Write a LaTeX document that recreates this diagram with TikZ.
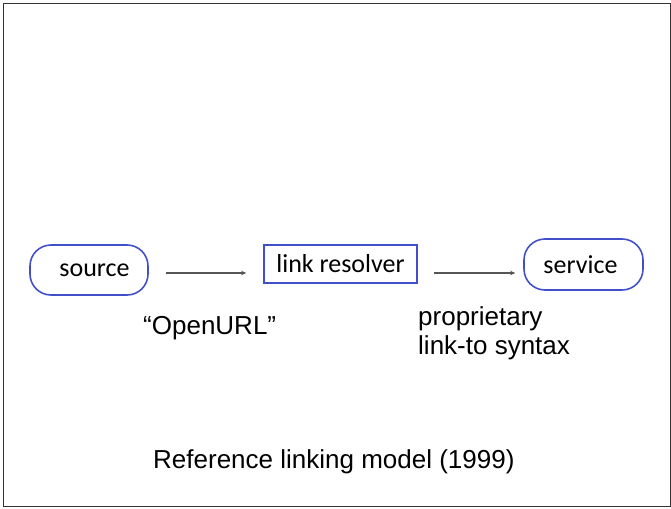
\documentclass[tikz,border=0pt]{standalone}
\usepackage{fontspec}
\setmainfont{Liberation Sans}
\newfontfamily\boxfont{Carlito}
\usetikzlibrary{arrows.meta}
\definecolor{boxblue}{HTML}{4150C8}
\definecolor{arrgray}{HTML}{555555}
\tikzset{
  pill/.style={draw=boxblue, line width=1.6pt, rounded corners=21pt, inner sep=0pt,
    font=\boxfont\fontsize{26}{30}\selectfont},
  plainbox/.style={draw=boxblue, line width=1.6pt, inner sep=0pt,
    font=\boxfont\fontsize{26}{30}\selectfont},
  arr/.style={draw=arrgray, line width=1.1pt, -{Stealth[length=5pt,width=4.5pt]}},
  lbl/.style={inner sep=0pt, anchor=west, align=left, font=\fontsize{26}{29}\selectfont},
}
\begin{document}
\begin{tikzpicture}[x=1pt,y=-1pt]
\useasboundingbox (0,0) rectangle (671,508);
\draw[line width=1pt, draw=black!80] (3,4) rectangle (670,506);
\node[pill, minimum width=118pt, minimum height=50pt] (source) at (89,270) {\hspace*{11pt}source};
\node[plainbox, minimum width=153pt, minimum height=38pt] (link) at (340.5,264) {link resolver};
\node[pill, minimum width=119pt, minimum height=51pt] (service) at (583.5,264.5) {service\hspace*{6pt}};
\draw[arr] ([xshift=17pt,yshift=-3pt]source.east) -- ([xshift=-17pt,yshift=-9pt]link.west);
\draw[arr] ([xshift=16pt,yshift=-9pt]link.east) -- ([xshift=-8pt,yshift=-8.5pt]service.west);
\node[lbl] (openurl) at (143,328) {“OpenURL”};
\node[lbl] (prop) at (418,333) {proprietary\\link-to syntax};
\node[lbl] (caption) at (153,462) {Reference linking model (1999)};
\end{tikzpicture}
\end{document}
